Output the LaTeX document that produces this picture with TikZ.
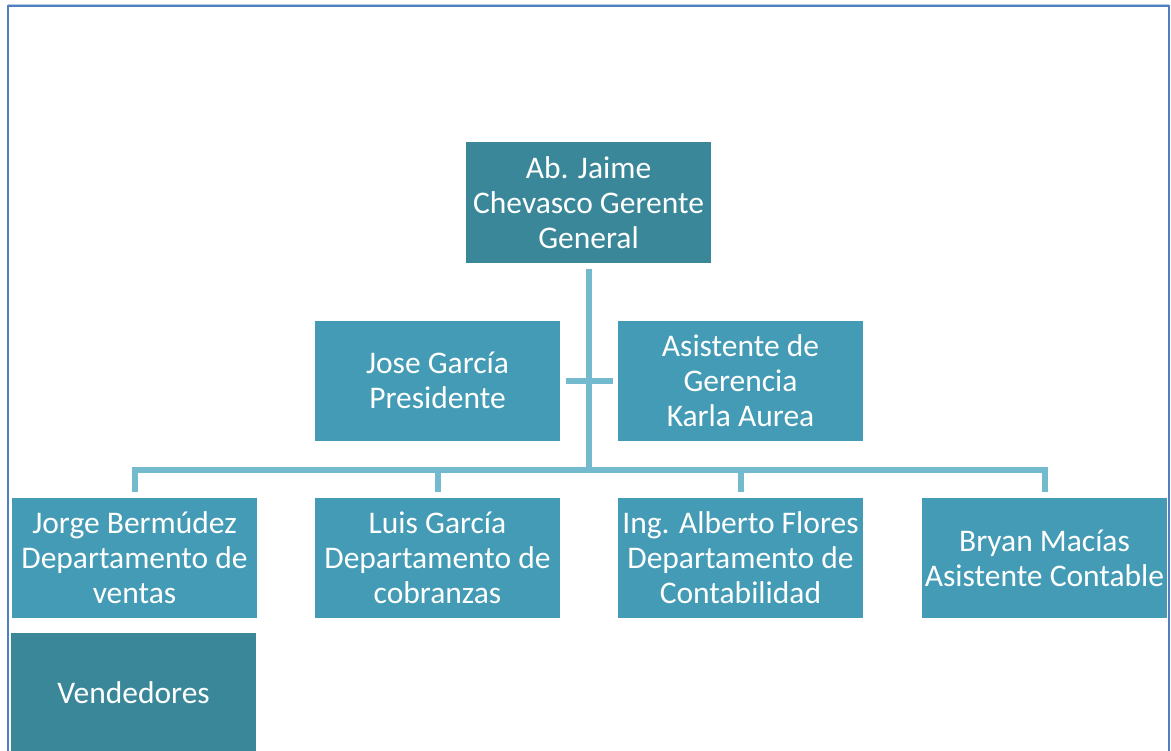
\documentclass[tikz,border=0pt]{standalone}
\usepackage{fontspec}
\setmainfont{Carlito}
\definecolor{frameblue}{HTML}{4F7FC0}
\definecolor{darkbox}{HTML}{3A8799}
\definecolor{midbox}{HTML}{449BB5}
\definecolor{linkc}{HTML}{74BACF}
\tikzset{
  box/.style={rectangle, fill=midbox, text=white, minimum width=245bp, minimum height=120bp,
    inner sep=0pt, align=center, font=\fontsize{31.5bp}{35bp}\selectfont},
  darkbox/.style={box, fill=darkbox},
  link/.style={draw=linkc, line width=6bp},
}
\begin{document}
\begin{tikzpicture}[x=1bp,y=-1bp]
\useasboundingbox (0,0) rectangle (1171,751);
\clip (0,0) rectangle (1171,751);
\draw[frameblue!40, line width=1bp] (8,4.5) -- (1169,4.5);
\draw[frameblue, line width=2.2bp] (8,780) -- (8,6) -- (1169,6) -- (1169,780);
% nodes
\node[darkbox] (top) at (588.5,202.5) {Ab. Jaime\\Chevasco Gerente\\General};
\node[box] (jose) at (437.5,380.5) {Jose García\\Presidente};
\node[box] (asis) at (740.5,380.5) {Asistente de\\Gerencia\\Karla Aurea};
\node[box] (jorge) at (134.5,558) {Jorge Bermúdez\\Departamento de\\ventas};
\node[box] (luis) at (437.5,558) {Luis García\\Departamento de\\cobranzas};
\node[box] (ing) at (740.5,558) {Ing. Alberto Flores\\Departamento de\\Contabilidad};
\node[box] (bryan) at (1044.5,558) {Bryan Macías\\Asistente Contable};
\node[darkbox] (vend) at (133.5,693) {Vendedores};
\coordinate (bar) at (589,470);
% connectors
\draw[link, shorten <=6bp] (top.south) -- (top.south |- bar);
\draw[link, shorten <=6bp, shorten >=5bp] (jose.east) -- (asis.west);
\draw[link, shorten <=6bp, shorten >=6bp] (jorge.north) -- (jorge.north |- bar) -- (bryan.north |- bar) -- (bryan.north);
\draw[link, shorten >=6bp] (luis.north |- bar) -- (luis.north);
\draw[link, shorten >=6bp] (ing.north |- bar) -- (ing.north);
\end{tikzpicture}
\end{document}
